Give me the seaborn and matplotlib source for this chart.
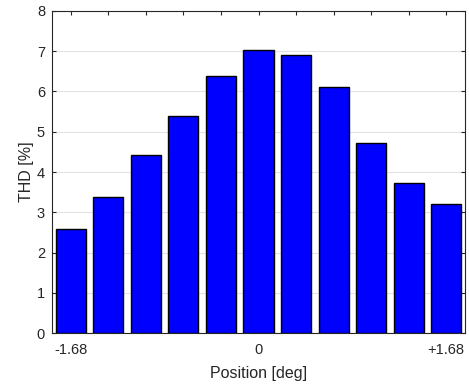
import seaborn as sns
import matplotlib.pyplot as plt
import pandas as pd

position = list(range(1, 12))
thd = [2.59, 3.39, 4.43, 5.40, 6.38, 7.03, 6.91, 6.11, 4.72, 3.73, 3.20]
tick_labels = ['-1.68', '', '', '', '', '0', '', '', '', '', '+1.68']

sns.set_theme(style='white')
plt.rcParams['font.family'] = ['Liberation Sans', 'DejaVu Sans']

df = pd.DataFrame({'position': position, 'thd': thd})

fig = plt.figure(figsize=(4.69, 3.87), dpi=100)
ax = fig.add_axes([0.1109, 0.1395, 0.8806, 0.8321])

sns.barplot(data=df, x='position', y='thd', color='#0000ff', saturation=1,
            edgecolor='black', linewidth=1, width=0.8, ax=ax, zorder=3)

ax.set_xlim(-0.5, 10.5)
ax.set_ylim(0, 8)
ax.set_xticks(range(len(position)))
ax.set_xticklabels(tick_labels)
ax.set_yticks(range(0, 9))
ax.yaxis.grid(True, color='#e3e3e3', linewidth=0.8, zorder=0)
ax.set_axisbelow(True)

ax.tick_params(axis='both', which='both', direction='in', length=3, width=0.8,
               color='#262626', top=True, right=True, bottom=True, left=True,
               labelsize=10.5, labelcolor='#262626')
ax.tick_params(axis='x', pad=7)
ax.tick_params(axis='y', pad=5)
for s in ax.spines.values():
    s.set_color('#262626')
    s.set_linewidth(0.8)

ax.set_xlabel('Position [deg]', fontsize=11.5, color='#262626', labelpad=7)
ax.set_ylabel('THD [%]', fontsize=11.5, color='#262626', labelpad=2)

fig.savefig('out.png', dpi=100)
